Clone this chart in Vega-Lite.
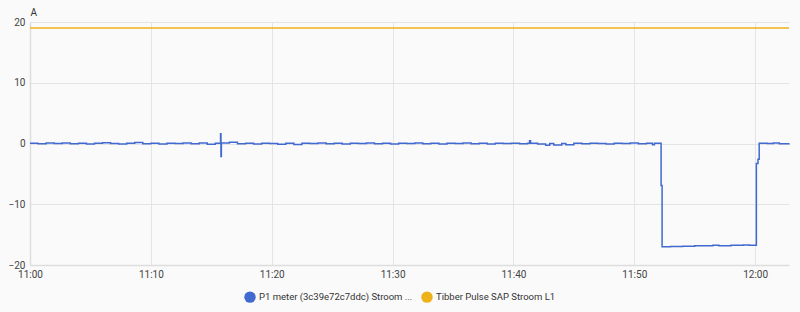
{
  "$schema": "https://vega.github.io/schema/vega-lite/v6.json",
  "width": 759,
  "height": 243,
  "autosize": {"type": "none"},
  "padding": {"left": 30, "top": 22, "right": 11, "bottom": 47},
  "background": "#fafafa",
  "config": {
    "font": "Roboto",
    "view": {"stroke": null},
    "axis": {"labelFont": "Roboto", "labelColor": "#444444", "labelFontSize": 10, "gridColor": "#e4e4e4", "domainColor": "#dddddd", "domainWidth": 1.5, "ticks": false}
  },
  "data": {
    "values": [
      {"t": "2024-01-01T11:00:00", "v": 0.05, "s": "P1 meter (3c39e72c7ddc) Stroom ..."},
      {"t": "2024-01-01T11:00:40", "v": -0.05, "s": "P1 meter (3c39e72c7ddc) Stroom ..."},
      {"t": "2024-01-01T11:01:20", "v": 0.08, "s": "P1 meter (3c39e72c7ddc) Stroom ..."},
      {"t": "2024-01-01T11:02:00", "v": 0.0, "s": "P1 meter (3c39e72c7ddc) Stroom ..."},
      {"t": "2024-01-01T11:02:40", "v": 0.1, "s": "P1 meter (3c39e72c7ddc) Stroom ..."},
      {"t": "2024-01-01T11:03:20", "v": -0.05, "s": "P1 meter (3c39e72c7ddc) Stroom ..."},
      {"t": "2024-01-01T11:04:00", "v": 0.05, "s": "P1 meter (3c39e72c7ddc) Stroom ..."},
      {"t": "2024-01-01T11:04:40", "v": -0.1, "s": "P1 meter (3c39e72c7ddc) Stroom ..."},
      {"t": "2024-01-01T11:05:20", "v": 0.05, "s": "P1 meter (3c39e72c7ddc) Stroom ..."},
      {"t": "2024-01-01T11:06:00", "v": 0.12, "s": "P1 meter (3c39e72c7ddc) Stroom ..."},
      {"t": "2024-01-01T11:06:40", "v": 0.0, "s": "P1 meter (3c39e72c7ddc) Stroom ..."},
      {"t": "2024-01-01T11:07:20", "v": -0.08, "s": "P1 meter (3c39e72c7ddc) Stroom ..."},
      {"t": "2024-01-01T11:08:00", "v": 0.05, "s": "P1 meter (3c39e72c7ddc) Stroom ..."},
      {"t": "2024-01-01T11:08:40", "v": 0.15, "s": "P1 meter (3c39e72c7ddc) Stroom ..."},
      {"t": "2024-01-01T11:09:20", "v": -0.05, "s": "P1 meter (3c39e72c7ddc) Stroom ..."},
      {"t": "2024-01-01T11:10:00", "v": 0.05, "s": "P1 meter (3c39e72c7ddc) Stroom ..."},
      {"t": "2024-01-01T11:10:40", "v": -0.1, "s": "P1 meter (3c39e72c7ddc) Stroom ..."},
      {"t": "2024-01-01T11:11:20", "v": 0.05, "s": "P1 meter (3c39e72c7ddc) Stroom ..."},
      {"t": "2024-01-01T11:12:00", "v": 0.0, "s": "P1 meter (3c39e72c7ddc) Stroom ..."},
      {"t": "2024-01-01T11:12:40", "v": 0.1, "s": "P1 meter (3c39e72c7ddc) Stroom ..."},
      {"t": "2024-01-01T11:13:20", "v": -0.05, "s": "P1 meter (3c39e72c7ddc) Stroom ..."},
      {"t": "2024-01-01T11:14:00", "v": 0.08, "s": "P1 meter (3c39e72c7ddc) Stroom ..."},
      {"t": "2024-01-01T11:14:40", "v": -0.12, "s": "P1 meter (3c39e72c7ddc) Stroom ..."},
      {"t": "2024-01-01T11:15:20", "v": 0.05, "s": "P1 meter (3c39e72c7ddc) Stroom ..."},
      {"t": "2024-01-01T11:15:44", "v": 0.05, "s": "P1 meter (3c39e72c7ddc) Stroom ..."},
      {"t": "2024-01-01T11:15:46", "v": 1.6, "s": "P1 meter (3c39e72c7ddc) Stroom ..."},
      {"t": "2024-01-01T11:15:48", "v": -2.15, "s": "P1 meter (3c39e72c7ddc) Stroom ..."},
      {"t": "2024-01-01T11:15:50", "v": 0.1, "s": "P1 meter (3c39e72c7ddc) Stroom ..."},
      {"t": "2024-01-01T11:16:30", "v": 0.2, "s": "P1 meter (3c39e72c7ddc) Stroom ..."},
      {"t": "2024-01-01T11:17:10", "v": -0.05, "s": "P1 meter (3c39e72c7ddc) Stroom ..."},
      {"t": "2024-01-01T11:17:50", "v": 0.05, "s": "P1 meter (3c39e72c7ddc) Stroom ..."},
      {"t": "2024-01-01T11:18:30", "v": -0.1, "s": "P1 meter (3c39e72c7ddc) Stroom ..."},
      {"t": "2024-01-01T11:19:10", "v": 0.05, "s": "P1 meter (3c39e72c7ddc) Stroom ..."},
      {"t": "2024-01-01T11:19:50", "v": 0.0, "s": "P1 meter (3c39e72c7ddc) Stroom ..."},
      {"t": "2024-01-01T11:20:30", "v": -0.12, "s": "P1 meter (3c39e72c7ddc) Stroom ..."},
      {"t": "2024-01-01T11:21:10", "v": 0.05, "s": "P1 meter (3c39e72c7ddc) Stroom ..."},
      {"t": "2024-01-01T11:21:50", "v": -0.15, "s": "P1 meter (3c39e72c7ddc) Stroom ..."},
      {"t": "2024-01-01T11:22:30", "v": 0.05, "s": "P1 meter (3c39e72c7ddc) Stroom ..."},
      {"t": "2024-01-01T11:23:10", "v": 0.0, "s": "P1 meter (3c39e72c7ddc) Stroom ..."},
      {"t": "2024-01-01T11:23:50", "v": 0.1, "s": "P1 meter (3c39e72c7ddc) Stroom ..."},
      {"t": "2024-01-01T11:24:30", "v": -0.05, "s": "P1 meter (3c39e72c7ddc) Stroom ..."},
      {"t": "2024-01-01T11:25:10", "v": 0.05, "s": "P1 meter (3c39e72c7ddc) Stroom ..."},
      {"t": "2024-01-01T11:25:50", "v": -0.1, "s": "P1 meter (3c39e72c7ddc) Stroom ..."},
      {"t": "2024-01-01T11:26:30", "v": 0.05, "s": "P1 meter (3c39e72c7ddc) Stroom ..."},
      {"t": "2024-01-01T11:27:10", "v": 0.0, "s": "P1 meter (3c39e72c7ddc) Stroom ..."},
      {"t": "2024-01-01T11:27:50", "v": 0.08, "s": "P1 meter (3c39e72c7ddc) Stroom ..."},
      {"t": "2024-01-01T11:28:30", "v": -0.05, "s": "P1 meter (3c39e72c7ddc) Stroom ..."},
      {"t": "2024-01-01T11:29:10", "v": 0.05, "s": "P1 meter (3c39e72c7ddc) Stroom ..."},
      {"t": "2024-01-01T11:29:50", "v": -0.08, "s": "P1 meter (3c39e72c7ddc) Stroom ..."},
      {"t": "2024-01-01T11:30:30", "v": 0.05, "s": "P1 meter (3c39e72c7ddc) Stroom ..."},
      {"t": "2024-01-01T11:31:10", "v": 0.0, "s": "P1 meter (3c39e72c7ddc) Stroom ..."},
      {"t": "2024-01-01T11:31:50", "v": 0.1, "s": "P1 meter (3c39e72c7ddc) Stroom ..."},
      {"t": "2024-01-01T11:32:30", "v": -0.05, "s": "P1 meter (3c39e72c7ddc) Stroom ..."},
      {"t": "2024-01-01T11:33:10", "v": 0.05, "s": "P1 meter (3c39e72c7ddc) Stroom ..."},
      {"t": "2024-01-01T11:33:50", "v": -0.1, "s": "P1 meter (3c39e72c7ddc) Stroom ..."},
      {"t": "2024-01-01T11:34:30", "v": 0.05, "s": "P1 meter (3c39e72c7ddc) Stroom ..."},
      {"t": "2024-01-01T11:35:10", "v": 0.0, "s": "P1 meter (3c39e72c7ddc) Stroom ..."},
      {"t": "2024-01-01T11:35:50", "v": 0.08, "s": "P1 meter (3c39e72c7ddc) Stroom ..."},
      {"t": "2024-01-01T11:36:30", "v": -0.05, "s": "P1 meter (3c39e72c7ddc) Stroom ..."},
      {"t": "2024-01-01T11:37:10", "v": 0.05, "s": "P1 meter (3c39e72c7ddc) Stroom ..."},
      {"t": "2024-01-01T11:37:50", "v": -0.1, "s": "P1 meter (3c39e72c7ddc) Stroom ..."},
      {"t": "2024-01-01T11:38:30", "v": 0.05, "s": "P1 meter (3c39e72c7ddc) Stroom ..."},
      {"t": "2024-01-01T11:39:10", "v": 0.0, "s": "P1 meter (3c39e72c7ddc) Stroom ..."},
      {"t": "2024-01-01T11:39:50", "v": 0.05, "s": "P1 meter (3c39e72c7ddc) Stroom ..."},
      {"t": "2024-01-01T11:40:30", "v": -0.05, "s": "P1 meter (3c39e72c7ddc) Stroom ..."},
      {"t": "2024-01-01T11:41:10", "v": 0.05, "s": "P1 meter (3c39e72c7ddc) Stroom ..."},
      {"t": "2024-01-01T11:41:20", "v": 0.45, "s": "P1 meter (3c39e72c7ddc) Stroom ..."},
      {"t": "2024-01-01T11:41:25", "v": 0.05, "s": "P1 meter (3c39e72c7ddc) Stroom ..."},
      {"t": "2024-01-01T11:42:00", "v": -0.1, "s": "P1 meter (3c39e72c7ddc) Stroom ..."},
      {"t": "2024-01-01T11:42:40", "v": -0.3, "s": "P1 meter (3c39e72c7ddc) Stroom ..."},
      {"t": "2024-01-01T11:43:00", "v": 0.0, "s": "P1 meter (3c39e72c7ddc) Stroom ..."},
      {"t": "2024-01-01T11:43:20", "v": -0.25, "s": "P1 meter (3c39e72c7ddc) Stroom ..."},
      {"t": "2024-01-01T11:44:00", "v": 0.0, "s": "P1 meter (3c39e72c7ddc) Stroom ..."},
      {"t": "2024-01-01T11:44:20", "v": -0.2, "s": "P1 meter (3c39e72c7ddc) Stroom ..."},
      {"t": "2024-01-01T11:45:00", "v": 0.05, "s": "P1 meter (3c39e72c7ddc) Stroom ..."},
      {"t": "2024-01-01T11:45:40", "v": -0.05, "s": "P1 meter (3c39e72c7ddc) Stroom ..."},
      {"t": "2024-01-01T11:46:20", "v": 0.05, "s": "P1 meter (3c39e72c7ddc) Stroom ..."},
      {"t": "2024-01-01T11:47:00", "v": 0.0, "s": "P1 meter (3c39e72c7ddc) Stroom ..."},
      {"t": "2024-01-01T11:47:40", "v": -0.1, "s": "P1 meter (3c39e72c7ddc) Stroom ..."},
      {"t": "2024-01-01T11:48:20", "v": 0.05, "s": "P1 meter (3c39e72c7ddc) Stroom ..."},
      {"t": "2024-01-01T11:49:00", "v": 0.0, "s": "P1 meter (3c39e72c7ddc) Stroom ..."},
      {"t": "2024-01-01T11:49:40", "v": 0.08, "s": "P1 meter (3c39e72c7ddc) Stroom ..."},
      {"t": "2024-01-01T11:50:20", "v": -0.05, "s": "P1 meter (3c39e72c7ddc) Stroom ..."},
      {"t": "2024-01-01T11:51:00", "v": 0.05, "s": "P1 meter (3c39e72c7ddc) Stroom ..."},
      {"t": "2024-01-01T11:51:30", "v": -0.2, "s": "P1 meter (3c39e72c7ddc) Stroom ..."},
      {"t": "2024-01-01T11:51:40", "v": 0.05, "s": "P1 meter (3c39e72c7ddc) Stroom ..."},
      {"t": "2024-01-01T11:52:13", "v": -6.9, "s": "P1 meter (3c39e72c7ddc) Stroom ..."},
      {"t": "2024-01-01T11:52:18", "v": -17.0, "s": "P1 meter (3c39e72c7ddc) Stroom ..."},
      {"t": "2024-01-01T11:53:00", "v": -16.95, "s": "P1 meter (3c39e72c7ddc) Stroom ..."},
      {"t": "2024-01-01T11:54:00", "v": -16.9, "s": "P1 meter (3c39e72c7ddc) Stroom ..."},
      {"t": "2024-01-01T11:55:00", "v": -16.85, "s": "P1 meter (3c39e72c7ddc) Stroom ..."},
      {"t": "2024-01-01T11:56:30", "v": -16.75, "s": "P1 meter (3c39e72c7ddc) Stroom ..."},
      {"t": "2024-01-01T11:57:00", "v": -16.85, "s": "P1 meter (3c39e72c7ddc) Stroom ..."},
      {"t": "2024-01-01T11:58:00", "v": -16.75, "s": "P1 meter (3c39e72c7ddc) Stroom ..."},
      {"t": "2024-01-01T11:59:00", "v": -16.7, "s": "P1 meter (3c39e72c7ddc) Stroom ..."},
      {"t": "2024-01-01T11:59:30", "v": -16.75, "s": "P1 meter (3c39e72c7ddc) Stroom ..."},
      {"t": "2024-01-01T12:00:06", "v": -3.3, "s": "P1 meter (3c39e72c7ddc) Stroom ..."},
      {"t": "2024-01-01T12:00:14", "v": -2.6, "s": "P1 meter (3c39e72c7ddc) Stroom ..."},
      {"t": "2024-01-01T12:00:20", "v": 0.05, "s": "P1 meter (3c39e72c7ddc) Stroom ..."},
      {"t": "2024-01-01T12:01:00", "v": 0.0, "s": "P1 meter (3c39e72c7ddc) Stroom ..."},
      {"t": "2024-01-01T12:01:30", "v": 0.1, "s": "P1 meter (3c39e72c7ddc) Stroom ..."},
      {"t": "2024-01-01T12:02:00", "v": -0.05, "s": "P1 meter (3c39e72c7ddc) Stroom ..."},
      {"t": "2024-01-01T12:02:48", "v": 0.05, "s": "P1 meter (3c39e72c7ddc) Stroom ..."},
      {"t": "2024-01-01T11:00:00", "v": 19.0, "s": "Tibber Pulse SAP Stroom L1"},
      {"t": "2024-01-01T12:02:48", "v": 19.0, "s": "Tibber Pulse SAP Stroom L1"}
    ]
  },
  "mark": {"type": "line", "interpolate": "step-after", "strokeWidth": 1.5},
  "encoding": {
    "x": {
      "field": "t", "type": "temporal",
      "scale": {"domain": [{"year": 2024, "month": 1, "date": 1, "hours": 11, "minutes": 0, "seconds": 0}, {"year": 2024, "month": 1, "date": 1, "hours": 12, "minutes": 2, "seconds": 48}], "nice": false},
      "axis": {
        "title": null, "format": "%H:%M", "labelPadding": 4, "labelFlush": false,
        "values": [
          {"year": 2024, "month": 1, "date": 1, "hours": 11, "minutes": 0},
          {"year": 2024, "month": 1, "date": 1, "hours": 11, "minutes": 10},
          {"year": 2024, "month": 1, "date": 1, "hours": 11, "minutes": 20},
          {"year": 2024, "month": 1, "date": 1, "hours": 11, "minutes": 30},
          {"year": 2024, "month": 1, "date": 1, "hours": 11, "minutes": 40},
          {"year": 2024, "month": 1, "date": 1, "hours": 11, "minutes": 50},
          {"year": 2024, "month": 1, "date": 1, "hours": 12, "minutes": 0}
        ]
      }
    },
    "y": {
      "field": "v", "type": "quantitative",
      "scale": {"domain": [-20, 20], "nice": false},
      "axis": {"values": [-20, -10, 0, 10, 20], "title": "A", "titleAngle": 0, "titleAlign": "left", "titleX": 0, "titleY": -5, "titleFontSize": 10, "titleFontWeight": "normal", "titleColor": "#333333", "labelPadding": 5}
    },
    "color": {
      "field": "s", "type": "nominal",
      "scale": {"domain": ["P1 meter (3c39e72c7ddc) Stroom ...", "Tibber Pulse SAP Stroom L1"], "range": ["#4269d0", "#efb118"]},
      "legend": {
        "title": null, "orient": "none", "legendX": 214, "legendY": 269, "direction": "horizontal", "padding": 0,
        "symbolType": "circle", "symbolSize": 130, "labelFontSize": 9.5, "labelColor": "#333333", "labelLimit": 300,
        "labelOffset": 3, "columnPadding": 8, "symbolStrokeWidth": 0,
        "encode": {"symbols": {"update": {"fill": {"scale": "color", "field": "value"}, "fillOpacity": {"value": 1}}}}
      }
    }
  }
}
